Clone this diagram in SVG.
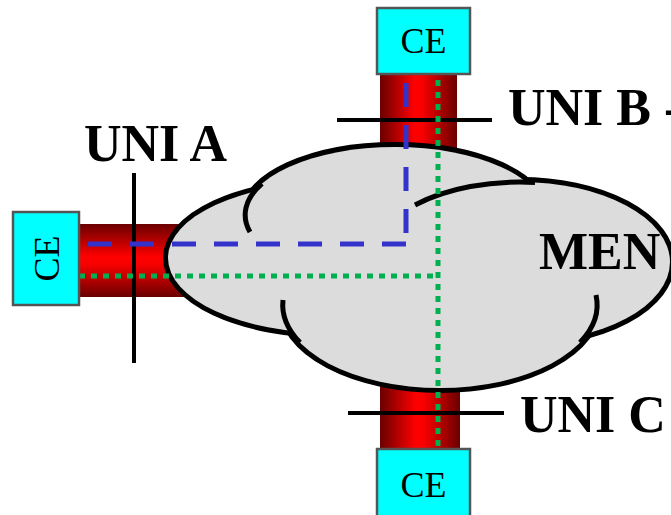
<svg xmlns="http://www.w3.org/2000/svg" width="671" height="515" viewBox="0 0 671 515">
<defs>
<linearGradient id="tubeV" x1="0" y1="0" x2="1" y2="0">
<stop offset="0" stop-color="#6a0000"/><stop offset="0.45" stop-color="#ff0000"/><stop offset="0.55" stop-color="#f80000"/><stop offset="1" stop-color="#6a0000"/>
</linearGradient>
<linearGradient id="tubeH" x1="0" y1="0" x2="0" y2="1">
<stop offset="0" stop-color="#6a0000"/><stop offset="0.45" stop-color="#ff0000"/><stop offset="0.55" stop-color="#f80000"/><stop offset="1" stop-color="#6a0000"/>
</linearGradient>
<style>
.ce{fill:#00ffff;stroke:#555555;stroke-width:2.5}
.cet{font-family:"Liberation Serif",serif;font-size:36px;fill:#000;text-anchor:middle}
.lbl{font-family:"Liberation Serif",serif;font-size:52px;font-weight:bold;fill:#000}
.uni{stroke:#000;stroke-width:4;fill:none}
.cl{fill:#dcdcdc}
.clo{fill:#dcdcdc;stroke:#000;stroke-width:10}
.curl{fill:none;stroke:#000;stroke-width:5}
.blue{stroke:#3333cc;stroke-width:5;stroke-dasharray:24 18;fill:none}
.green{stroke:#00b050;stroke-width:5;stroke-dasharray:6 6;fill:none}
</style>
</defs>
<g id="tubes">
<rect x="380" y="74" width="77" height="100" fill="url(#tubeV)"/>
<rect x="380" y="360" width="80" height="90" fill="url(#tubeV)"/>
<rect x="79" y="224" width="130" height="73" fill="url(#tubeH)"/>
</g>
<g id="cloud">
<ellipse class="clo" cx="330" cy="258" rx="162" ry="75"/>
<ellipse class="clo" cx="395" cy="215" rx="150" ry="68"/>
<ellipse class="clo" cx="520" cy="262" rx="150" ry="80"/>
<ellipse class="clo" cx="440" cy="305" rx="157" ry="83"/>
<ellipse class="cl" cx="330" cy="258" rx="162" ry="75"/>
<ellipse class="cl" cx="395" cy="215" rx="150" ry="68"/>
<ellipse class="cl" cx="520" cy="262" rx="150" ry="80"/>
<ellipse class="cl" cx="440" cy="305" rx="157" ry="83"/>
<path class="curl" d="M250 232 A150 68 0 0 1 262 183.6"/>
<path class="curl" d="M415 205 A150 80 0 0 1 535 182.4"/>
<path class="curl" d="M283 300 A157 83 0 0 0 300 342.6"/>
<path class="curl" d="M596 295 A157 83 0 0 1 580 342.5"/>
<text class="lbl" x="539" y="269">MEN</text>
</g>
<g id="uni-lines">
<line class="uni" x1="337" y1="120" x2="492" y2="120"/>
<line class="uni" x1="134" y1="173" x2="134" y2="363"/>
<line class="uni" x1="348" y1="413" x2="504" y2="413"/>
</g>
<g id="connectors">
<path class="blue" d="M88 244 H406"/>
<path class="blue" d="M406 83 V233"/>
<path class="green" d="M79 276 H437"/>
<path class="green" d="M438 80 V446"/>
</g>
<g id="ce-top">
<rect class="ce" x="377" y="8" width="93" height="66"/>
<text class="cet" x="423.5" y="53">CE</text>
</g>
<g id="ce-left">
<rect class="ce" x="13" y="212" width="66" height="93"/>
<text class="cet" transform="translate(59,258.5) rotate(-90)">CE</text>
</g>
<g id="ce-bottom">
<rect class="ce" x="377" y="449" width="93" height="70"/>
<text class="cet" x="423.5" y="497">CE</text>
</g>
<g id="labels">
<text class="lbl" x="84" y="161">UNI A</text>
<text class="lbl" x="508" y="125">UNI B -</text>
<text class="lbl" x="520" y="432">UNI C</text>
</g>
</svg>
